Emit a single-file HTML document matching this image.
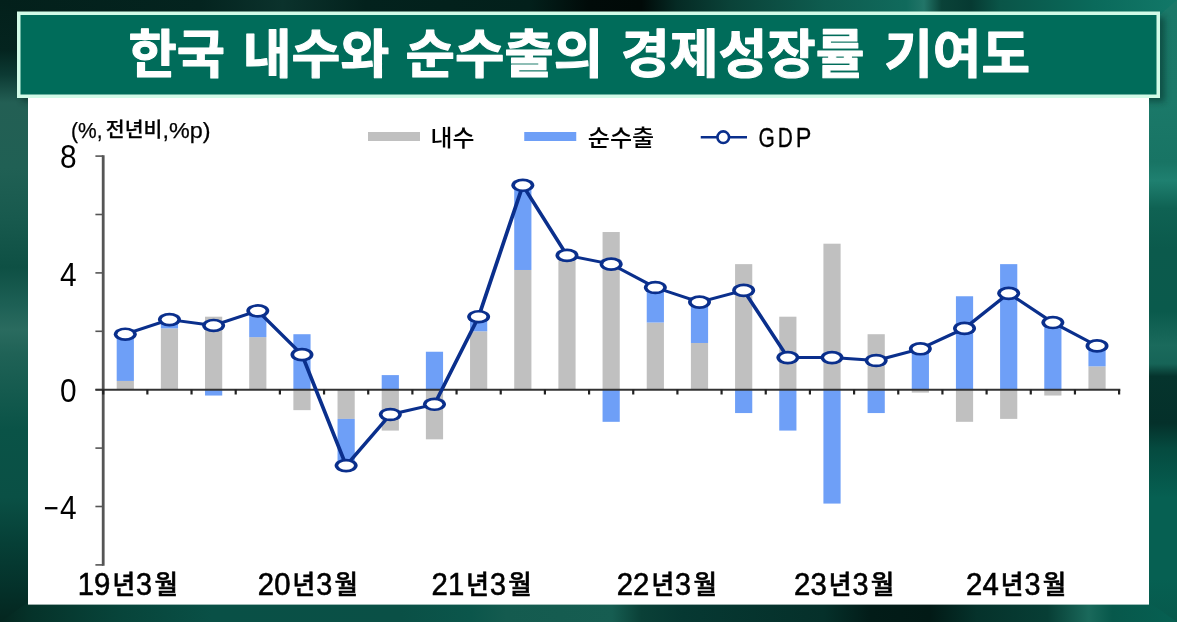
<!DOCTYPE html>
<html lang="ko">
<head>
<meta charset="utf-8">
<title>한국 내수와 순수출의 경제성장률 기여도</title>
<style>
html,body{margin:0;padding:0;background:#0a4a40;}
body{width:1177px;height:622px;overflow:hidden;position:relative;}
svg{position:absolute;left:0;top:0;display:block;}
svg text{font-family:"Liberation Sans","Noto Sans CJK KR",sans-serif;}
.title text{font-family:"Liberation Sans","Noto Sans CJK KR",sans-serif;font-weight:700;font-size:52px;fill:#fff;stroke:#fff;stroke-width:1.1px;stroke-linejoin:round;}
</style>
</head>
<body>
<svg width="1177" height="622" viewBox="0 0 1177 622">
<defs>
<linearGradient id="gTop" x1="0" x2="1" y1="0" y2="0">
<stop offset="0" stop-color="#03201b"/><stop offset="0.17" stop-color="#04241f"/><stop offset="0.24" stop-color="#0b322c"/><stop offset="0.31" stop-color="#03221d"/><stop offset="0.45" stop-color="#03201b"/><stop offset="0.5" stop-color="#010b09"/><stop offset="0.545" stop-color="#010a08"/><stop offset="0.575" stop-color="#052a24"/><stop offset="0.62" stop-color="#0a4238"/><stop offset="0.7" stop-color="#0e5c4f"/><stop offset="0.77" stop-color="#106a5c"/><stop offset="0.785" stop-color="#227568"/><stop offset="0.8" stop-color="#0a4238"/><stop offset="0.825" stop-color="#063a32"/><stop offset="0.85" stop-color="#0a5548"/><stop offset="0.93" stop-color="#0a6a5b"/><stop offset="1" stop-color="#127868"/>
</linearGradient>
<linearGradient id="gBot" x1="0" x2="1" y1="0" y2="0">
<stop offset="0" stop-color="#04261f"/><stop offset="0.025" stop-color="#053229"/><stop offset="0.1" stop-color="#07443a"/><stop offset="0.18" stop-color="#095046"/><stop offset="0.34" stop-color="#0a5046"/><stop offset="0.4" stop-color="#0b564b"/><stop offset="0.43" stop-color="#145b4f"/><stop offset="0.52" stop-color="#165d51"/><stop offset="0.545" stop-color="#0a4037"/><stop offset="0.58" stop-color="#063832"/><stop offset="0.7" stop-color="#05302a"/><stop offset="0.74" stop-color="#021c18"/><stop offset="0.79" stop-color="#021a16"/><stop offset="0.83" stop-color="#05322b"/><stop offset="0.89" stop-color="#073e35"/><stop offset="0.925" stop-color="#1a695b"/><stop offset="0.945" stop-color="#07584b"/><stop offset="1" stop-color="#066052"/>
</linearGradient>
<linearGradient id="gLeft" x1="0" x2="0" y1="0" y2="1">
<stop offset="0" stop-color="#03201b"/><stop offset="0.08" stop-color="#04241f"/><stop offset="0.12" stop-color="#0c3a33"/><stop offset="0.165" stop-color="#235f54"/><stop offset="0.27" stop-color="#206054"/><stop offset="0.35" stop-color="#185a4e"/><stop offset="0.43" stop-color="#0e5044"/><stop offset="0.49" stop-color="#1d6055"/><stop offset="0.53" stop-color="#2a6b5f"/><stop offset="0.57" stop-color="#1f6256"/><stop offset="0.69" stop-color="#0a5347"/><stop offset="0.8" stop-color="#0a5045"/><stop offset="0.87" stop-color="#064037"/><stop offset="0.95" stop-color="#043029"/><stop offset="1" stop-color="#04261f"/>
</linearGradient>
<linearGradient id="gRight" x1="0" x2="0" y1="0" y2="1">
<stop offset="0" stop-color="#1a7868"/><stop offset="0.16" stop-color="#1b7969"/><stop offset="0.26" stop-color="#187464"/><stop offset="0.29" stop-color="#1f8070"/><stop offset="0.335" stop-color="#0f6253"/><stop offset="0.4" stop-color="#0b5a4c"/><stop offset="0.5" stop-color="#0a5a4c"/><stop offset="0.555" stop-color="#1a6a5c"/><stop offset="0.585" stop-color="#166457"/><stop offset="0.605" stop-color="#05342d"/><stop offset="0.68" stop-color="#04302a"/><stop offset="0.72" stop-color="#054a3f"/><stop offset="0.8" stop-color="#066052"/><stop offset="0.93" stop-color="#066052"/><stop offset="1" stop-color="#07594c"/>
</linearGradient>
<filter id="sh" x="-5%" y="-20%" width="110%" height="150%"><feGaussianBlur stdDeviation="3"/></filter>
</defs>
<rect x="0" y="0" width="1177" height="622" fill="#0a4a40"/>
<rect x="0" y="0" width="40" height="622" fill="url(#gLeft)"/>
<rect x="1140" y="0" width="37" height="622" fill="url(#gRight)"/>
<polygon points="0,0 1177,0 1161,14 16,14" fill="url(#gTop)"/>
<polygon points="0,622 1177,622 1150,603 27,603" fill="url(#gBot)"/>
<rect x="22" y="17" width="1143" height="85" fill="#02201b" opacity="0.45" filter="url(#sh)"/>
<rect x="28" y="96" width="1121" height="508.6" fill="#fff"/>
<rect x="18.75" y="13.25" width="1139.5" height="83" fill="#006c5a" stroke="#d2fbe8" stroke-width="3.5"/>
<g class="title">
<text x="128.50" y="73.1" textLength="96.50" lengthAdjust="spacingAndGlyphs">한국</text>
<text x="242.75" y="73.1" textLength="146.50" lengthAdjust="spacingAndGlyphs">내수와</text>
<text x="405.50" y="73.1" textLength="197.75" lengthAdjust="spacingAndGlyphs">순수출의</text>
<text x="621.00" y="73.1" textLength="243.50" lengthAdjust="spacingAndGlyphs">경제성장률</text>
<text x="884.25" y="73.1" textLength="145.75" lengthAdjust="spacingAndGlyphs">기여도</text>
</g>
<g fill="#000">
<text y="138" font-weight="500" stroke="#000" stroke-width="0.25"><tspan x="71" font-size="21.5" textLength="31.5" lengthAdjust="spacingAndGlyphs">(%,</tspan><tspan x="105.8" dy="-0.8" font-size="20" textLength="56.5" lengthAdjust="spacingAndGlyphs">전년비</tspan><tspan x="162.5" dy="0.8" font-size="21.5" textLength="48" lengthAdjust="spacingAndGlyphs">,%p)</tspan></text>
<text y="167.50" font-size="32.5"><tspan x="60.1" textLength="16.6" lengthAdjust="spacingAndGlyphs">8</tspan></text>
<text y="285.60" font-size="32.5"><tspan x="60.1" textLength="16.6" lengthAdjust="spacingAndGlyphs">4</tspan></text>
<text y="401.60" font-size="32.5"><tspan x="60.1" textLength="16.6" lengthAdjust="spacingAndGlyphs">0</tspan></text>
<text y="518.50" font-size="32.5"><tspan x="43.4" textLength="15" lengthAdjust="spacingAndGlyphs">−</tspan><tspan x="60.1" textLength="16.6" lengthAdjust="spacingAndGlyphs">4</tspan></text>
<text y="594.6" font-weight="500" stroke="#000" stroke-width="0.6"><tspan x="77.80" font-size="30.8" textLength="32.6" lengthAdjust="spacingAndGlyphs">19</tspan><tspan x="112.50" dy="-0.8" font-size="25.6" textLength="22.6" lengthAdjust="spacingAndGlyphs">년</tspan><tspan x="136.10" dy="0.8" font-size="30.8" textLength="16" lengthAdjust="spacingAndGlyphs">3</tspan><tspan x="154.40" dy="-0.8" font-size="25.6" textLength="23.4" lengthAdjust="spacingAndGlyphs">월</tspan></text>
<text y="594.6" font-weight="500" stroke="#000" stroke-width="0.6"><tspan x="257.85" font-size="30.8" textLength="32.6" lengthAdjust="spacingAndGlyphs">20</tspan><tspan x="292.55" dy="-0.8" font-size="25.6" textLength="22.6" lengthAdjust="spacingAndGlyphs">년</tspan><tspan x="316.15" dy="0.8" font-size="30.8" textLength="16" lengthAdjust="spacingAndGlyphs">3</tspan><tspan x="334.45" dy="-0.8" font-size="25.6" textLength="23.4" lengthAdjust="spacingAndGlyphs">월</tspan></text>
<text y="594.6" font-weight="500" stroke="#000" stroke-width="0.6"><tspan x="431.60" font-size="30.8" textLength="32.6" lengthAdjust="spacingAndGlyphs">21</tspan><tspan x="466.30" dy="-0.8" font-size="25.6" textLength="22.6" lengthAdjust="spacingAndGlyphs">년</tspan><tspan x="489.90" dy="0.8" font-size="30.8" textLength="16" lengthAdjust="spacingAndGlyphs">3</tspan><tspan x="508.20" dy="-0.8" font-size="25.6" textLength="23.4" lengthAdjust="spacingAndGlyphs">월</tspan></text>
<text y="594.6" font-weight="500" stroke="#000" stroke-width="0.6"><tspan x="616.80" font-size="30.8" textLength="32.6" lengthAdjust="spacingAndGlyphs">22</tspan><tspan x="651.50" dy="-0.8" font-size="25.6" textLength="22.6" lengthAdjust="spacingAndGlyphs">년</tspan><tspan x="675.10" dy="0.8" font-size="30.8" textLength="16" lengthAdjust="spacingAndGlyphs">3</tspan><tspan x="693.40" dy="-0.8" font-size="25.6" textLength="23.4" lengthAdjust="spacingAndGlyphs">월</tspan></text>
<text y="594.6" font-weight="500" stroke="#000" stroke-width="0.6"><tspan x="794.10" font-size="30.8" textLength="32.6" lengthAdjust="spacingAndGlyphs">23</tspan><tspan x="828.80" dy="-0.8" font-size="25.6" textLength="22.6" lengthAdjust="spacingAndGlyphs">년</tspan><tspan x="852.40" dy="0.8" font-size="30.8" textLength="16" lengthAdjust="spacingAndGlyphs">3</tspan><tspan x="870.70" dy="-0.8" font-size="25.6" textLength="23.4" lengthAdjust="spacingAndGlyphs">월</tspan></text>
<text y="594.6" font-weight="500" stroke="#000" stroke-width="0.6"><tspan x="966.10" font-size="30.8" textLength="32.6" lengthAdjust="spacingAndGlyphs">24</tspan><tspan x="1000.80" dy="-0.8" font-size="25.6" textLength="22.6" lengthAdjust="spacingAndGlyphs">년</tspan><tspan x="1024.40" dy="0.8" font-size="30.8" textLength="16" lengthAdjust="spacingAndGlyphs">3</tspan><tspan x="1042.70" dy="-0.8" font-size="25.6" textLength="23.4" lengthAdjust="spacingAndGlyphs">월</tspan></text>
<rect x="368" y="132" width="52" height="9" fill="#c0c0c0"/>
<text x="430.5" y="146.2" font-size="23" font-weight="500" textLength="44" lengthAdjust="spacingAndGlyphs">내수</text>
<rect x="524.25" y="132" width="52" height="9" fill="#6e9ff7"/>
<text x="587.75" y="146.2" font-size="23" font-weight="500" textLength="66.5" lengthAdjust="spacingAndGlyphs">순수출</text>
<line x1="700.75" x2="747" y1="137.2" y2="137.2" stroke="#0a2f8c" stroke-width="2.6"/>
<circle cx="723.25" cy="137.2" r="5.8" fill="#fff" stroke="#0a2f8c" stroke-width="2.6"/>
<text y="147" font-size="27.5" stroke="#000" stroke-width="0.3"><tspan x="758.5" textLength="16.3" lengthAdjust="spacingAndGlyphs">G</tspan><tspan x="777.8" textLength="15.1" lengthAdjust="spacingAndGlyphs">D</tspan><tspan x="795.7" textLength="15.6" lengthAdjust="spacingAndGlyphs">P</tspan></text>
</g>
<g>
<rect x="116.69" y="380.94" width="17.2" height="8.76" fill="#c0c0c0"/>
<rect x="116.69" y="334.22" width="17.2" height="46.72" fill="#6e9ff7"/>
<rect x="160.85" y="328.38" width="17.2" height="61.32" fill="#c0c0c0"/>
<rect x="160.85" y="319.62" width="17.2" height="8.76" fill="#6e9ff7"/>
<rect x="205.03" y="316.70" width="17.2" height="73.00" fill="#c0c0c0"/>
<rect x="205.03" y="389.70" width="17.2" height="5.84" fill="#6e9ff7"/>
<rect x="249.20" y="337.14" width="17.2" height="52.56" fill="#c0c0c0"/>
<rect x="249.20" y="310.86" width="17.2" height="26.28" fill="#6e9ff7"/>
<rect x="293.37" y="389.70" width="17.2" height="20.44" fill="#c0c0c0"/>
<rect x="293.37" y="334.22" width="17.2" height="55.48" fill="#6e9ff7"/>
<rect x="337.53" y="389.70" width="17.2" height="29.20" fill="#c0c0c0"/>
<rect x="337.53" y="418.90" width="17.2" height="46.72" fill="#6e9ff7"/>
<rect x="381.70" y="389.70" width="17.2" height="40.88" fill="#c0c0c0"/>
<rect x="381.70" y="375.10" width="17.2" height="14.60" fill="#6e9ff7"/>
<rect x="425.88" y="389.70" width="17.2" height="49.64" fill="#c0c0c0"/>
<rect x="425.88" y="351.74" width="17.2" height="37.96" fill="#6e9ff7"/>
<rect x="470.04" y="331.30" width="17.2" height="58.40" fill="#c0c0c0"/>
<rect x="470.04" y="316.70" width="17.2" height="14.60" fill="#6e9ff7"/>
<rect x="514.22" y="269.98" width="17.2" height="119.72" fill="#c0c0c0"/>
<rect x="514.22" y="185.30" width="17.2" height="84.68" fill="#6e9ff7"/>
<rect x="558.38" y="258.30" width="17.2" height="131.40" fill="#c0c0c0"/>
<rect x="558.38" y="255.38" width="17.2" height="2.92" fill="#6e9ff7"/>
<rect x="602.56" y="232.02" width="17.2" height="157.68" fill="#c0c0c0"/>
<rect x="602.56" y="389.70" width="17.2" height="32.12" fill="#6e9ff7"/>
<rect x="646.73" y="322.54" width="17.2" height="67.16" fill="#c0c0c0"/>
<rect x="646.73" y="287.50" width="17.2" height="35.04" fill="#6e9ff7"/>
<rect x="690.90" y="342.98" width="17.2" height="46.72" fill="#c0c0c0"/>
<rect x="690.90" y="302.10" width="17.2" height="40.88" fill="#6e9ff7"/>
<rect x="735.07" y="264.14" width="17.2" height="125.56" fill="#c0c0c0"/>
<rect x="735.07" y="389.70" width="17.2" height="23.36" fill="#6e9ff7"/>
<rect x="779.24" y="316.70" width="17.2" height="73.00" fill="#c0c0c0"/>
<rect x="779.24" y="389.70" width="17.2" height="40.88" fill="#6e9ff7"/>
<rect x="823.41" y="243.70" width="17.2" height="146.00" fill="#c0c0c0"/>
<rect x="823.41" y="389.70" width="17.2" height="113.88" fill="#6e9ff7"/>
<rect x="867.58" y="334.22" width="17.2" height="55.48" fill="#c0c0c0"/>
<rect x="867.58" y="389.70" width="17.2" height="23.36" fill="#6e9ff7"/>
<rect x="911.75" y="389.70" width="17.2" height="2.92" fill="#c0c0c0"/>
<rect x="911.75" y="348.82" width="17.2" height="40.88" fill="#6e9ff7"/>
<rect x="955.92" y="389.70" width="17.2" height="32.12" fill="#c0c0c0"/>
<rect x="955.92" y="296.26" width="17.2" height="93.44" fill="#6e9ff7"/>
<rect x="1000.09" y="389.70" width="17.2" height="29.20" fill="#c0c0c0"/>
<rect x="1000.09" y="264.14" width="17.2" height="125.56" fill="#6e9ff7"/>
<rect x="1044.26" y="389.70" width="17.2" height="5.84" fill="#c0c0c0"/>
<rect x="1044.26" y="318.16" width="17.2" height="71.54" fill="#6e9ff7"/>
<rect x="1088.43" y="366.34" width="17.2" height="23.36" fill="#c0c0c0"/>
<rect x="1088.43" y="345.90" width="17.2" height="20.44" fill="#6e9ff7"/>
</g>
<line x1="103.2" x2="103.2" y1="155.30" y2="565.70" stroke="#555" stroke-width="2.8"/>
<line x1="95.4" x2="103.2" y1="564.90" y2="564.90" stroke="#555" stroke-width="1.6"/>
<line x1="95.4" x2="103.2" y1="506.50" y2="506.50" stroke="#555" stroke-width="1.6"/>
<line x1="95.4" x2="103.2" y1="448.10" y2="448.10" stroke="#555" stroke-width="1.6"/>
<line x1="95.4" x2="103.2" y1="389.70" y2="389.70" stroke="#555" stroke-width="1.6"/>
<line x1="95.4" x2="103.2" y1="331.30" y2="331.30" stroke="#555" stroke-width="1.6"/>
<line x1="95.4" x2="103.2" y1="272.90" y2="272.90" stroke="#555" stroke-width="1.6"/>
<line x1="95.4" x2="103.2" y1="214.50" y2="214.50" stroke="#555" stroke-width="1.6"/>
<line x1="95.4" x2="103.2" y1="156.10" y2="156.10" stroke="#555" stroke-width="1.6"/>
<line x1="95.4" x2="1120.3" y1="389.70" y2="389.70" stroke="#333" stroke-width="2.1"/>
<line x1="103.20" x2="103.20" y1="389.70" y2="394.50" stroke="#222" stroke-width="2.2"/>
<line x1="147.37" x2="147.37" y1="389.70" y2="394.50" stroke="#222" stroke-width="2.2"/>
<line x1="191.54" x2="191.54" y1="389.70" y2="394.50" stroke="#222" stroke-width="2.2"/>
<line x1="235.71" x2="235.71" y1="389.70" y2="394.50" stroke="#222" stroke-width="2.2"/>
<line x1="279.88" x2="279.88" y1="389.70" y2="394.50" stroke="#222" stroke-width="2.2"/>
<line x1="324.05" x2="324.05" y1="389.70" y2="394.50" stroke="#222" stroke-width="2.2"/>
<line x1="368.22" x2="368.22" y1="389.70" y2="394.50" stroke="#222" stroke-width="2.2"/>
<line x1="412.39" x2="412.39" y1="389.70" y2="394.50" stroke="#222" stroke-width="2.2"/>
<line x1="456.56" x2="456.56" y1="389.70" y2="394.50" stroke="#222" stroke-width="2.2"/>
<line x1="500.73" x2="500.73" y1="389.70" y2="394.50" stroke="#222" stroke-width="2.2"/>
<line x1="544.90" x2="544.90" y1="389.70" y2="394.50" stroke="#222" stroke-width="2.2"/>
<line x1="589.07" x2="589.07" y1="389.70" y2="394.50" stroke="#222" stroke-width="2.2"/>
<line x1="633.24" x2="633.24" y1="389.70" y2="394.50" stroke="#222" stroke-width="2.2"/>
<line x1="677.41" x2="677.41" y1="389.70" y2="394.50" stroke="#222" stroke-width="2.2"/>
<line x1="721.58" x2="721.58" y1="389.70" y2="394.50" stroke="#222" stroke-width="2.2"/>
<line x1="765.75" x2="765.75" y1="389.70" y2="394.50" stroke="#222" stroke-width="2.2"/>
<line x1="809.92" x2="809.92" y1="389.70" y2="394.50" stroke="#222" stroke-width="2.2"/>
<line x1="854.09" x2="854.09" y1="389.70" y2="394.50" stroke="#222" stroke-width="2.2"/>
<line x1="898.26" x2="898.26" y1="389.70" y2="394.50" stroke="#222" stroke-width="2.2"/>
<line x1="942.43" x2="942.43" y1="389.70" y2="394.50" stroke="#222" stroke-width="2.2"/>
<line x1="986.60" x2="986.60" y1="389.70" y2="394.50" stroke="#222" stroke-width="2.2"/>
<line x1="1030.77" x2="1030.77" y1="389.70" y2="394.50" stroke="#222" stroke-width="2.2"/>
<line x1="1074.94" x2="1074.94" y1="389.70" y2="394.50" stroke="#222" stroke-width="2.2"/>
<line x1="1119.11" x2="1119.11" y1="389.70" y2="394.50" stroke="#222" stroke-width="2.2"/>
<g transform="scale(1.3,1)"><polyline points="96.373,334.22 130.350,319.62 164.327,325.46 198.304,310.86 232.281,354.66 266.258,465.62 300.235,414.52 334.212,404.30 368.188,316.70 402.165,185.30 436.142,255.38 470.119,264.14 504.096,287.50 538.073,302.10 572.050,290.42 606.027,357.58 640.004,357.58 673.981,360.50 707.958,348.82 741.935,328.38 775.912,293.34 809.888,322.54 843.865,345.90" fill="none" stroke="#0a2f8c" stroke-width="2.95" stroke-linejoin="round"/></g>
<ellipse cx="125.28" cy="334.22" rx="11.5" ry="6.8" fill="#0a2f8c"/><ellipse cx="125.28" cy="334.22" rx="7.8" ry="4.1" fill="#fff"/>
<ellipse cx="169.45" cy="319.62" rx="11.5" ry="6.8" fill="#0a2f8c"/><ellipse cx="169.45" cy="319.62" rx="7.8" ry="4.1" fill="#fff"/>
<ellipse cx="213.62" cy="325.46" rx="11.5" ry="6.8" fill="#0a2f8c"/><ellipse cx="213.62" cy="325.46" rx="7.8" ry="4.1" fill="#fff"/>
<ellipse cx="257.80" cy="310.86" rx="11.5" ry="6.8" fill="#0a2f8c"/><ellipse cx="257.80" cy="310.86" rx="7.8" ry="4.1" fill="#fff"/>
<ellipse cx="301.97" cy="354.66" rx="11.5" ry="6.8" fill="#0a2f8c"/><ellipse cx="301.97" cy="354.66" rx="7.8" ry="4.1" fill="#fff"/>
<ellipse cx="346.13" cy="465.62" rx="11.5" ry="6.8" fill="#0a2f8c"/><ellipse cx="346.13" cy="465.62" rx="7.8" ry="4.1" fill="#fff"/>
<ellipse cx="390.31" cy="414.52" rx="11.5" ry="6.8" fill="#0a2f8c"/><ellipse cx="390.31" cy="414.52" rx="7.8" ry="4.1" fill="#fff"/>
<ellipse cx="434.48" cy="404.30" rx="11.5" ry="6.8" fill="#0a2f8c"/><ellipse cx="434.48" cy="404.30" rx="7.8" ry="4.1" fill="#fff"/>
<ellipse cx="478.64" cy="316.70" rx="11.5" ry="6.8" fill="#0a2f8c"/><ellipse cx="478.64" cy="316.70" rx="7.8" ry="4.1" fill="#fff"/>
<ellipse cx="522.82" cy="185.30" rx="11.5" ry="6.8" fill="#0a2f8c"/><ellipse cx="522.82" cy="185.30" rx="7.8" ry="4.1" fill="#fff"/>
<ellipse cx="566.99" cy="255.38" rx="11.5" ry="6.8" fill="#0a2f8c"/><ellipse cx="566.99" cy="255.38" rx="7.8" ry="4.1" fill="#fff"/>
<ellipse cx="611.16" cy="264.14" rx="11.5" ry="6.8" fill="#0a2f8c"/><ellipse cx="611.16" cy="264.14" rx="7.8" ry="4.1" fill="#fff"/>
<ellipse cx="655.33" cy="287.50" rx="11.5" ry="6.8" fill="#0a2f8c"/><ellipse cx="655.33" cy="287.50" rx="7.8" ry="4.1" fill="#fff"/>
<ellipse cx="699.50" cy="302.10" rx="11.5" ry="6.8" fill="#0a2f8c"/><ellipse cx="699.50" cy="302.10" rx="7.8" ry="4.1" fill="#fff"/>
<ellipse cx="743.67" cy="290.42" rx="11.5" ry="6.8" fill="#0a2f8c"/><ellipse cx="743.67" cy="290.42" rx="7.8" ry="4.1" fill="#fff"/>
<ellipse cx="787.84" cy="357.58" rx="11.5" ry="6.8" fill="#0a2f8c"/><ellipse cx="787.84" cy="357.58" rx="7.8" ry="4.1" fill="#fff"/>
<ellipse cx="832.01" cy="357.58" rx="11.5" ry="6.8" fill="#0a2f8c"/><ellipse cx="832.01" cy="357.58" rx="7.8" ry="4.1" fill="#fff"/>
<ellipse cx="876.18" cy="360.50" rx="11.5" ry="6.8" fill="#0a2f8c"/><ellipse cx="876.18" cy="360.50" rx="7.8" ry="4.1" fill="#fff"/>
<ellipse cx="920.35" cy="348.82" rx="11.5" ry="6.8" fill="#0a2f8c"/><ellipse cx="920.35" cy="348.82" rx="7.8" ry="4.1" fill="#fff"/>
<ellipse cx="964.52" cy="328.38" rx="11.5" ry="6.8" fill="#0a2f8c"/><ellipse cx="964.52" cy="328.38" rx="7.8" ry="4.1" fill="#fff"/>
<ellipse cx="1008.69" cy="293.34" rx="11.5" ry="6.8" fill="#0a2f8c"/><ellipse cx="1008.69" cy="293.34" rx="7.8" ry="4.1" fill="#fff"/>
<ellipse cx="1052.86" cy="322.54" rx="11.5" ry="6.8" fill="#0a2f8c"/><ellipse cx="1052.86" cy="322.54" rx="7.8" ry="4.1" fill="#fff"/>
<ellipse cx="1097.03" cy="345.90" rx="11.5" ry="6.8" fill="#0a2f8c"/><ellipse cx="1097.03" cy="345.90" rx="7.8" ry="4.1" fill="#fff"/>
</svg>
</body>
</html>
